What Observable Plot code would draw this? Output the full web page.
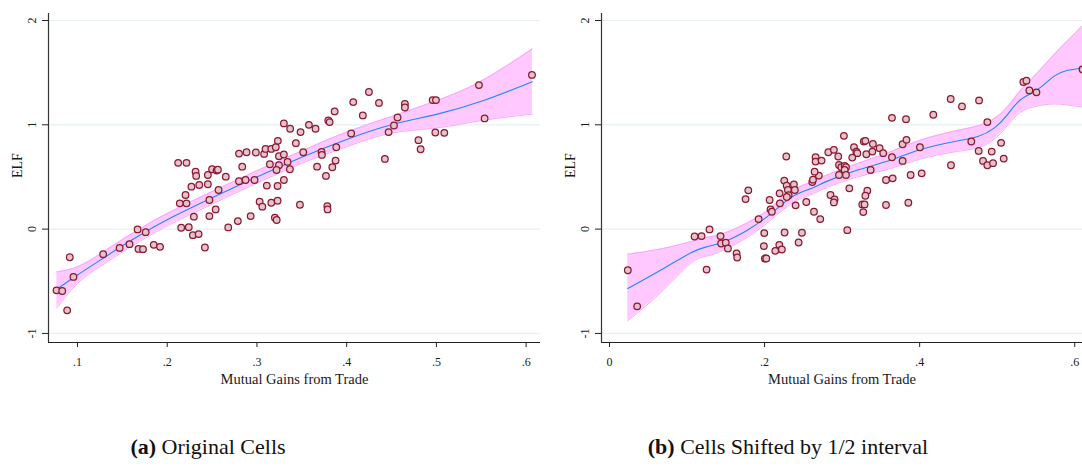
<!DOCTYPE html>
<html>
<head>
<meta charset="utf-8">
<script src="https://cdn.jsdelivr.net/npm/d3@7"></script>
<script src="https://cdn.jsdelivr.net/npm/@observablehq/plot@0.6"></script>
<style>
  body { margin: 0; background: #fff; }
  #wrap { position: relative; width: 1082px; height: 471px; overflow: hidden; background: #fff; }
  .panel { position: absolute; top: 0; }
  .cap { position: absolute; top: 434px; line-height: 26px; font-family: "Liberation Serif", "DejaVu Serif", serif; font-size: 22px; color: #111; text-align: center; white-space: nowrap; }
</style>
</head>
<body>
<div id="wrap">
  <div id="pa" class="panel" style="left:0px"></div>
  <div id="pb" class="panel" style="left:560px"></div>
  <div class="cap" style="left:0px;width:416px"><b>(a)</b> Original Cells</div>
  <div class="cap" style="left:560px;width:456px"><b>(b)</b> Cells Shifted by 1/2 interval</div>
</div>
<script>
// ---------- Panel (a): Original Cells ----------
const leftX = [0.0766,0.083,0.0914,0.0955,0.0885,0.1286,0.147,0.158,0.167,0.176,0.168,0.173,0.185,0.192,
  0.2122,0.2215,0.214,0.2215,0.2204,0.2156,0.224,0.2286,0.235,0.242,0.2297,0.227,0.2357,0.2453,0.2316,0.2323,
  0.2453,0.247,0.247,0.254,0.2572,0.2653,0.268,0.2787,0.280,0.2873,0.2973,0.293,0.303,0.306,0.311,0.316,0.320,
  0.322,0.323,0.323,0.250,0.255,0.2565,0.280,0.2884,0.2988,0.2836,0.308,0.3096,0.316,0.321,0.3233,0.3245,0.330,
  0.330,0.337,0.3486,0.3579,0.3653,0.3434,0.3516,0.3144,0.3245,0.3218,0.3341,0.3367,0.330,0.3479,0.3784,0.3787,
  0.367,0.372,0.3724,0.3769,0.384,0.3876,0.3884,0.3795,0.381,0.3866,0.405,0.4073,0.418,0.4248,0.436,0.4467,
  0.4426,0.4527,0.4567,0.6065,0.5474,0.5537,0.4958,0.4995,0.4988,0.5088,0.480,0.4824,0.4649,0.4649];
const leftY = [-0.587,-0.593,-0.27,-0.458,-0.779,-0.24,-0.18,-0.144,-0.003,-0.029,-0.19,-0.192,-0.151,-0.17,
  0.635,0.635,0.247,0.247,0.327,0.013,0.019,-0.058,-0.048,-0.176,0.119,0.407,0.423,0.43,0.551,0.51,
  0.519,0.279,0.125,0.189,0.375,0.503,0.016,0.077,0.46,0.471,0.471,0.125,0.263,0.215,0.417,0.253,0.109,
  0.087,0.413,0.272,0.574,0.561,0.57,0.724,0.737,0.734,0.599,0.721,0.769,0.769,0.785,0.846,0.699,0.715,
  1.013,0.962,0.93,1.0,0.962,0.824,0.737,0.622,0.612,0.567,0.644,0.574,0.471,0.234,0.221,0.189,
  0.599,0.74,0.711,0.51,0.593,0.657,0.785,1.041,1.026,1.128,0.917,1.218,1.09,1.314,1.21,0.93,
  0.673,0.993,1.07,1.478,1.381,1.061,1.237,1.237,0.926,0.923,0.853,0.766,1.199,1.166];
const leftFitX  = [0.077, 0.1, 0.125, 0.15, 0.175, 0.2, 0.25, 0.3, 0.35, 0.4, 0.45, 0.5, 0.55, 0.607];
const leftFitY  = [-0.577,-0.44,-0.30,-0.16,-0.03, 0.09, 0.30, 0.50, 0.69, 0.86, 1.00, 1.10, 1.225, 1.413];
const leftFitLo = [-0.757,-0.52,-0.36,-0.22,-0.09, 0.03, 0.24, 0.44, 0.63, 0.79, 0.92, 0.97, 1.04, 1.103];
const leftFitHi = [-0.41,-0.36,-0.24,-0.10, 0.03, 0.15, 0.36, 0.56, 0.75, 0.93, 1.08, 1.23, 1.42, 1.728];
const leftXTicks = [0.1, 0.2, 0.3, 0.4, 0.5, 0.6];
const leftXDomain = [0.0677, 0.616];

// ---------- Panel (b): Cells Shifted by 1/2 interval ----------
const rightX = [0.0236,0.0357,0.1097,0.1187,0.129,0.1252,0.1432,0.144,0.150,0.1527,0.1639,0.1647,0.1755,0.179,
  0.1923,0.1996,0.1991,0.2004,0.2022,0.2065,0.2077,0.2094,0.2138,0.219,0.2223,0.2198,0.2194,0.2258,0.2254,0.228,
  0.2285,0.2301,0.231,0.2287,0.2378,0.239,0.24,0.2439,0.2482,0.2538,0.2615,0.2624,0.2637,0.270,0.2718,0.2645,
  0.285,0.2658,0.2658,0.2735,0.2822,0.2894,0.295,0.3023,0.296,0.299,0.3033,0.305,0.3033,0.296,0.305,0.2903,
  0.2894,0.3093,0.3067,0.3153,0.3183,0.3196,0.3131,0.328,0.330,0.3312,0.339,0.3397,0.3368,0.3484,0.353,0.3325,
  0.330,0.326,0.329,0.3273,0.3566,0.3652,0.3566,0.3643,0.3643,0.378,0.383,0.378,0.3824,0.3854,0.3884,0.4026,
  0.4004,0.4176,0.44,0.4546,0.4766,0.4404,0.4666,0.4761,0.4873,0.4817,0.4873,0.4946,0.4929,0.505,0.5084,
  0.5338,0.5377,0.5415,0.5506,0.610];
const rightY = [-0.394,-0.74,-0.071,-0.067,-0.003,-0.388,-0.067,-0.138,-0.131,-0.186,-0.234,-0.272,0.288,0.372,
  0.096,-0.038,-0.163,-0.282,-0.282,0.279,0.189,0.166,-0.208,-0.151,-0.195,0.247,0.343,-0.032,0.465,0.696,
  0.417,0.375,0.325,0.308,0.428,0.375,0.228,-0.128,-0.035,0.26,0.452,0.474,0.166,0.513,0.096,0.551,
  0.327,0.689,0.647,0.657,0.737,0.76,0.696,0.894,0.615,0.593,0.605,0.593,0.567,0.519,0.519,0.285,
  0.256,0.391,-0.01,0.785,0.743,0.728,0.686,0.84,0.846,0.718,0.743,0.817,0.567,0.776,0.728,0.368,
  0.32,0.237,0.237,0.163,0.471,0.487,0.231,0.689,1.067,0.814,0.856,0.654,1.054,0.253,0.519,0.535,
  0.785,1.096,1.247,1.176,1.234,0.612,0.84,0.75,1.026,0.654,0.612,0.632,0.743,0.827,0.676,
  1.41,1.423,1.33,1.311,1.53];
const rightFitX  = [0.0236,0.0658,0.1045,0.125,0.1475,0.1777,0.2,0.2164,0.2378,0.26,0.281,0.32,0.36,0.4,0.445,0.475,0.496,0.513,0.53,0.552,0.573,0.59,0.61];
const rightFitY  = [-0.57,-0.394,-0.23,-0.17,-0.122,-0.01,0.10,0.199,0.32,0.39,0.46,0.567,0.655,0.76,0.84,0.888,0.968,1.096,1.24,1.337,1.464,1.52,1.545];
const rightFitLo = [-0.88,-0.61,-0.33,-0.26,-0.20,-0.08,0.04,0.14,0.26,0.33,0.40,0.50,0.575,0.67,0.74,0.78,0.86,0.99,1.12,1.18,1.20,1.19,1.17];
const rightFitHi = [-0.24,-0.19,-0.12,-0.08,-0.04,0.06,0.16,0.26,0.38,0.45,0.52,0.63,0.735,0.85,0.94,0.99,1.06,1.17,1.33,1.50,1.67,1.80,1.95];
const rightXTicks = [0, 0.2, 0.4, 0.6];
const rightXDomain = [-0.0103, 0.61];

// ---------- Shared ----------
const yTicks = [-1, 0, 1, 2];
const yDomain = [-1.087, 2.067];
const xLabel = "Mutual Gains from Trade";
const yLabel = "ELF";

const fmtX = d => d === 0 ? "0" : d.toFixed(1).replace(/^0/, "");

function panel({xs, ys, fx, fy, flo, fhi, xDomain, xTicks, width, marginLeft, marginRight}) {
  const pts = xs.map((x, i) => ({x, y: ys[i]}));
  const fit = fx.map((x, i) => ({x, y: fy[i], lo: flo[i], hi: fhi[i]}));
  return Plot.plot({
    width, height: 400,
    marginLeft, marginRight, marginTop: 13, marginBottom: 58,
    x: {domain: xDomain},
    y: {domain: yDomain},
    style: {fontFamily: "'Liberation Serif', 'DejaVu Serif', serif", background: "white", color: "#1a1a1a", overflow: "hidden"},
    marks: [
      Plot.ruleY(yTicks, {stroke: "#e6eff1", strokeWidth: 1.2}),
      Plot.areaY(fit, {x: "x", y1: "lo", y2: "hi", fill: "#ffc8ff", curve: "natural"}),
      Plot.lineY(fit, {x: "x", y: "lo", stroke: "#f7a0f7", strokeWidth: 0.9, curve: "natural"}),
      Plot.lineY(fit, {x: "x", y: "hi", stroke: "#f7a0f7", strokeWidth: 0.9, curve: "natural"}),
      Plot.lineY(fit, {x: "x", y: "y", stroke: "#1e88ff", strokeWidth: 1.1, curve: "natural"}),
      Plot.dot(pts, {x: "x", y: "y", r: 3.3, fill: "#e4c3ca", stroke: "#8a1832", strokeWidth: 1.25}),
      Plot.ruleX([xDomain[0]], {stroke: "#333", strokeWidth: 1.2}),
      Plot.ruleY([yDomain[0]], {stroke: "#222", strokeWidth: 1.2}),
      Plot.axisX({ticks: xTicks, tickSize: 5, tickPadding: 10, tickFormat: fmtX, fontSize: 12, label: null, stroke: "#222"}),
      Plot.axisY({ticks: yTicks, tickSize: 6, tickFormat: () => "", label: null, stroke: "#222"}),
      Plot.text(yTicks, {y: d => d, text: d => String(d), frameAnchor: "left", dx: -16, rotate: -90,
        fontSize: 12, textAnchor: "middle", lineAnchor: "middle"}),
      Plot.text([xLabel], {frameAnchor: "bottom", dy: 37, fontSize: 14.5, lineAnchor: "middle"}),
      Plot.text([yLabel], {frameAnchor: "left", dx: -31, rotate: -90, fontSize: 14, lineAnchor: "middle"})
    ]
  });
}

document.getElementById("pa").appendChild(panel({
  xs: leftX, ys: leftY, fx: leftFitX, fy: leftFitY, flo: leftFitLo, fhi: leftFitHi,
  xDomain: leftXDomain, xTicks: leftXTicks, width: 560, marginLeft: 48, marginRight: 20
}));
document.getElementById("pb").appendChild(panel({
  xs: rightX, ys: rightY, fx: rightFitX, fy: rightFitY, flo: rightFitLo, fhi: rightFitHi,
  xDomain: rightXDomain, xTicks: rightXTicks, width: 522, marginLeft: 41, marginRight: 0
}));
</script>
</body>
</html>
